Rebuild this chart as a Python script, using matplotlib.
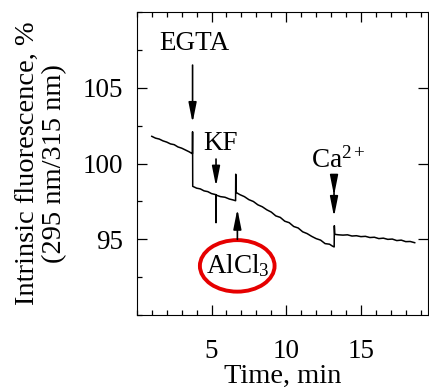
import matplotlib
matplotlib.use("Agg")
import matplotlib.pyplot as plt
from matplotlib.patches import Ellipse
from matplotlib.ticker import MultipleLocator, FixedLocator

plt.rcParams['font.family'] = ['Liberation Serif', 'DejaVu Serif']
plt.rcParams['mathtext.fontset'] = 'custom'
plt.rcParams['mathtext.rm'] = 'Liberation Serif'
plt.rcParams['mathtext.it'] = 'Liberation Serif:italic'
plt.rcParams['font.size'] = 19.5

# trace (time in min, fluorescence in %)
time_min = [1.0, 1.25, 1.5, 1.75, 2.0, 2.25, 2.5, 2.75, 3.0, 3.25, 3.5, 3.72,
            3.73, 3.74,
            4.0, 4.25, 4.5, 4.75, 5.0, 5.29,
            5.3, 5.31,
            5.6, 5.9, 6.2, 6.45, 6.61,
            6.62, 6.64,
            6.9, 7.2, 7.5, 7.8, 8.1, 8.4, 8.7, 9.0, 9.3, 9.6, 9.9, 10.2, 10.5,
            10.8, 11.1, 11.4, 11.7, 12.0, 12.3, 12.6, 12.9, 13.1, 13.21,
            13.22, 13.25,
            13.5, 13.8, 14.1, 14.4, 14.7, 15.0, 15.3, 15.6, 15.9, 16.2, 16.5,
            16.8, 17.1, 17.4, 17.7, 18.0, 18.3, 18.6]
fluor = [101.8, 101.68, 101.62, 101.5, 101.42, 101.3, 101.25, 101.1, 101.02, 100.9, 100.78, 100.65,
         102.1, 98.5,
         98.38, 98.33, 98.2, 98.15, 98.02, 97.95,
         96.1, 97.92,
         97.82, 97.78, 97.66, 97.6, 97.55,
         99.3, 98.1,
         97.95, 97.82, 97.62, 97.5, 97.28, 97.15, 96.95, 96.8, 96.55, 96.45, 96.2, 96.1, 95.85,
         95.75, 95.5, 95.38, 95.2, 95.05, 94.95, 94.72, 94.68, 94.55, 94.5,
         95.9, 95.33,
         95.3, 95.28, 95.3, 95.22, 95.24, 95.18, 95.2, 95.12, 95.14, 95.05, 95.08,
         95.0, 95.02, 94.92, 94.95, 94.85, 94.86, 94.78]

fig = plt.figure(figsize=(4.29, 3.9), dpi=100)
ax = fig.add_axes([0.319, 0.192, 0.679, 0.777])

ax.plot(time_min, fluor, color='k', lw=1.1)

ax.set_xlim(0, 19.5)
ax.set_ylim(90, 110)
ax.xaxis.set_major_locator(FixedLocator([5, 10, 15]))
ax.xaxis.set_minor_locator(MultipleLocator(1))
ax.yaxis.set_major_locator(FixedLocator([95, 100, 105]))
ax.yaxis.set_minor_locator(MultipleLocator(2.5))
ax.tick_params(which='both', direction='in', top=True, right=True, width=0.9)
ax.tick_params(which='major', length=7)
ax.tick_params(which='minor', length=3.5)
ax.tick_params(axis='y', which='minor', right=False)
ax.tick_params(axis='y', pad=10)
ax.tick_params(axis='x', pad=17)

ax.set_xlabel('Time, min', fontsize=20.5, labelpad=0)
ax.set_ylabel('Intrinsic fluorescence, %\n(295 nm/315 nm)', fontsize=20.5,
              linespacing=1.12, labelpad=11)

arrow = dict(arrowstyle='-|>,head_length=1.0,head_width=0.2', color='k', lw=1.2,
             mutation_scale=12, shrinkA=0, shrinkB=0)

# EGTA
ax.annotate('', xy=(3.73, 102.7), xytext=(3.73, 106.5), arrowprops=arrow)
ax.text(3.82, 107.9, 'EGTA', ha='center', va='center')
# KF
ax.annotate('', xy=(5.3, 98.5), xytext=(5.3, 100.3), arrowprops=arrow)
ax.text(5.62, 101.3, 'KF', ha='center', va='center')
# Ca2+
ax.annotate('', xy=(13.2, 96.5), xytext=(13.2, 99.2), arrowprops=arrow)
ax.annotate('', xy=(13.2, 97.9), xytext=(13.2, 99.2), arrowprops=arrow)
ax.text(13.5, 100.2, r'Ca$^{2+}$', ha='center', va='center')
# AlCl3
ax.annotate('', xy=(6.73, 97.0), xytext=(6.73, 95.0), arrowprops=arrow)
ax.add_patch(Ellipse((6.72, 93.25), width=5.0, height=3.4, fill=False,
                     edgecolor='#e60000', lw=2.8))
ax.text(6.75, 93.25, r'AlCl$_3$', ha='center', va='center')

fig.savefig('out.png', dpi=100)
